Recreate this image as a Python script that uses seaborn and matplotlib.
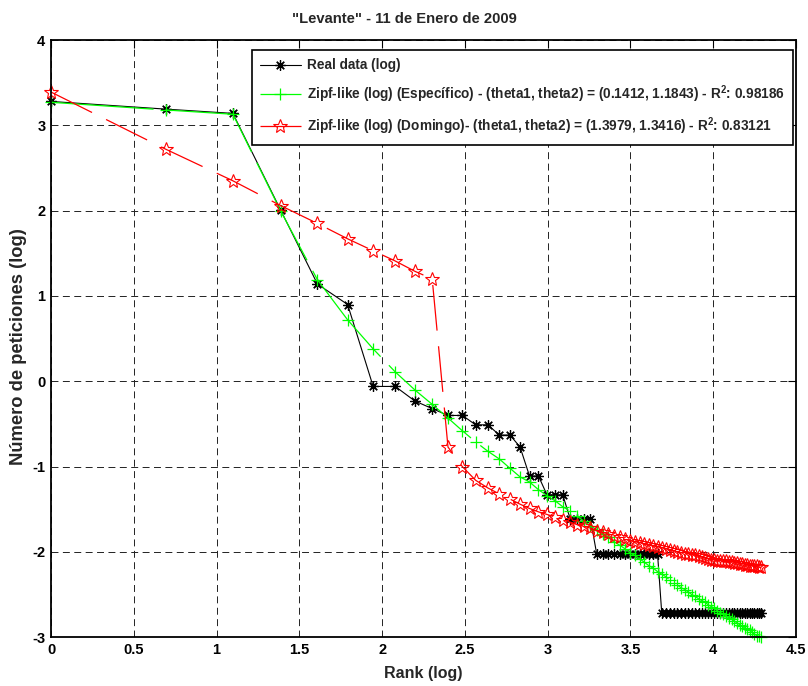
import numpy as np
import pandas as pd
import matplotlib
matplotlib.use("Agg")
import matplotlib.pyplot as plt
from matplotlib import font_manager as fm
import seaborn as sns

# ---------------- data ----------------
rank = list(range(1, 74))
real_log = [3.28, 3.19, 3.14, 2.01, 1.14, 0.90, -0.06, -0.06, -0.23, -0.32,
            -0.40, -0.40, -0.51, -0.51, -0.63, -0.63, -0.77, -1.11, -1.11, -1.33,
            -1.33, -1.33, -1.61, -1.61, -1.61, -1.61, -2.02, -2.02, -2.02, -2.02,
            -2.02, -2.02, -2.02, -2.02, -2.02, -2.02, -2.02, -2.02, -2.02, -2.71,
            -2.71, -2.71, -2.71, -2.71, -2.71, -2.71, -2.71, -2.71, -2.71, -2.71,
            -2.71, -2.71, -2.71, -2.71, -2.71, -2.71, -2.71, -2.71, -2.71, -2.71,
            -2.71, -2.71, -2.71, -2.71, -2.71, -2.71, -2.71, -2.71, -2.71, -2.71,
            -2.71, -2.71, -2.71]
zipf_especifico = [3.27, 3.18, 3.13, 2.00, 1.19, 0.72, 0.38, 0.11, -0.10, -0.27,
                   -0.43, -0.58, -0.71, -0.82, -0.91, -1.02, -1.12, -1.18, -1.27, -1.34,
                   -1.40, -1.47, -1.52, -1.58, -1.64, -1.69, -1.74, -1.79, -1.83, -1.88,
                   -1.92, -1.96, -2.01, -2.04, -2.08, -2.12, -2.16, -2.19, -2.23, -2.26,
                   -2.29, -2.33, -2.36, -2.39, -2.42, -2.44, -2.47, -2.50, -2.52, -2.55,
                   -2.57, -2.59, -2.62, -2.64, -2.66, -2.69, -2.71, -2.73, -2.75, -2.77,
                   -2.79, -2.81, -2.83, -2.85, -2.87, -2.89, -2.90, -2.92, -2.94, -2.96,
                   -2.98, -2.99, -3.00]
zipf_domingo = [3.39, 2.72, 2.35, 2.06, 1.85, 1.67, 1.53, 1.41, 1.29, 1.20,
                -0.77, -1.00, -1.16, -1.25, -1.32, -1.38, -1.44, -1.49, -1.53, -1.56,
                -1.59, -1.62, -1.65, -1.68, -1.70, -1.72, -1.75, -1.77, -1.79, -1.81,
                -1.83, -1.85, -1.87, -1.88, -1.89, -1.91, -1.92, -1.93, -1.94, -1.95,
                -1.96, -1.98, -1.99, -2.00, -2.01, -2.02, -2.02, -2.03, -2.04, -2.05,
                -2.06, -2.07, -2.08, -2.09, -2.09, -2.10, -2.10, -2.11, -2.11, -2.12,
                -2.12, -2.13, -2.13, -2.14, -2.14, -2.15, -2.15, -2.16, -2.16, -2.17,
                -2.17, -2.18, -2.18]
labels = ["Real data (log)",
          "Zipf-like (log) (Específico) - (theta1, theta2) = (0.1412, 1.1843) - R$^{\\mathbf{2}}$: 0.98186",
          "Zipf-like (log) (Domingo)- (theta1, theta2) = (1.3979, 1.3416) - R$^{\\mathbf{2}}$: 0.83121"]
title = '"Levante" - 11 de Enero de 2009'
xlabel = "Rank (log)"
ylabel = "Número de peticiones (log)"
xticks = [0, 0.5, 1, 1.5, 2, 2.5, 3, 3.5, 4, 4.5]
yticks = [-3, -2, -1, 0, 1, 2, 3, 4]

# ---------------- style ----------------
sns.set_theme(style="white")
names = {f.name for f in fm.fontManager.ttflist}
FONT = "Liberation Sans Narrow" if "Liberation Sans Narrow" in names else "Liberation Sans"
NARROW = FONT.endswith("Narrow")
plt.rcParams["font.family"] = [FONT, "DejaVu Sans"]
plt.rcParams["mathtext.fontset"] = "custom"
plt.rcParams["mathtext.rm"] = FONT
plt.rcParams["mathtext.bf"] = FONT + ":bold"
plt.rcParams["lines.scale_dashes"] = False

df = pd.DataFrame({"x": np.log(rank), "real": real_log,
                   "esp": zipf_especifico, "dom": zipf_domingo})

fig = plt.figure(figsize=(8.08, 6.86), dpi=100)
ax = fig.add_axes([51 / 808, 1 - 637.3 / 686, 745 / 808, 597.3 / 686])

common = dict(ax=ax, estimator=None, sort=False, clip_on=False)
sns.lineplot(data=df, x="x", y="real", color="black", linewidth=0.8,
             marker=(8, 2, 0), markersize=7.5, markeredgecolor="black",
             markeredgewidth=0.9, label=labels[0], **common)
sns.lineplot(data=df, x="x", y="esp", color="#00ff00", linewidth=0.9,
             linestyle=(5, (79, 8.6)),
             marker="+", markersize=8.5, markeredgecolor="#00ff00",
             markeredgewidth=0.9, label=labels[1], **common)
sns.lineplot(data=df, x="x", y="dom", color="#ff0000", linewidth=0.9,
             linestyle=(0, (33, 11.3)),
             marker="*", markersize=10, markerfacecolor="none",
             markeredgecolor="#ff0000", markeredgewidth=0.8,
             label=labels[2], **common)

ax.set_xlim(0, 4.5)
ax.set_ylim(-3, 4)
ax.set_xticks(xticks)
ax.set_xticklabels([f"{t:g}" for t in xticks])
ax.set_yticks(yticks)
ax.set_yticklabels([f"{t:g}" for t in yticks])
ax.tick_params(direction="in", length=5.5, width=0.8, top=True, right=True,
               labelsize=10.5, pad=4, colors="black")
for lab in ax.get_xticklabels() + ax.get_yticklabels():
    lab.set_fontweight("bold")
ax.grid(True, color="#222222", linewidth=0.7, linestyle=(0, (5, 3.2)))
for s in ax.spines.values():
    s.set_color("black")
    s.set_linewidth(1.3)

ax.text(0.5 - 0.025, 1.0 + 17 / 597.3, title, transform=ax.transAxes,
        ha="center", va="baseline", fontsize=12 if NARROW else 10.6,
        fontweight="bold")
ax.set_xlabel(xlabel, fontsize=11.5, fontweight="bold")
ax.set_ylabel(ylabel, fontsize=13.2, fontweight="bold")
ax.xaxis.set_label_coords(0.5, -0.048)
ax.yaxis.set_label_coords(-0.032, 0.486)

handles, labs = ax.get_legend_handles_labels()
leg = ax.legend(handles, labs, loc="upper right", bbox_to_anchor=(0.996, 0.983),
                borderaxespad=0, numpoints=1, frameon=True, fancybox=False,
                framealpha=1, edgecolor="black", handlelength=3.0,
                handletextpad=0.45, labelspacing=0.78, borderpad=0.6,
                prop={"weight": "bold", "size": 10.5 if NARROW else 9.8})
leg.get_frame().set_linewidth(1.2)

fig.savefig("out.png", dpi=100)
